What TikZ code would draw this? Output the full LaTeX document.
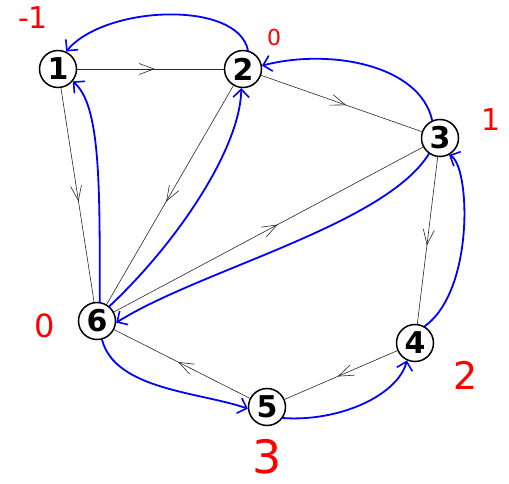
\documentclass[tikz,border=0pt]{standalone}
\usepackage{fontspec}
\setmainfont{DejaVu Sans}
\usetikzlibrary{arrows.meta,decorations.markings}
\definecolor{penblue}{RGB}{0,0,255}
\definecolor{penred}{RGB}{255,0,0}
\begin{document}
\begin{tikzpicture}[x=1pt,y=-1pt,
  vert/.style={circle,draw=black,line width=1.5pt,fill=white,minimum size=37pt,inner sep=0pt,font=\fontsize{30}{30}\selectfont\bfseries},
  edge/.style={draw=black!85,line width=0.6pt,postaction={decorate},
    decoration={markings,mark=at position 0.53 with {\arrow{Straight Barb[length=15pt,width=11pt,line width=0.6pt]}}}},
  pen/.style={draw=penblue,line width=1.8pt,line cap=round,-{Straight Barb[length=8pt,width=16pt,line width=1.6pt]}},
  lab/.style={text=penred,font=\fontsize{#1}{#1}\selectfont,inner sep=0pt}
]
\useasboundingbox (0,0) rectangle (509,484);
\node[vert] (n1) at (58,69) {1};
\node[vert] (n2) at (243,69) {2};
\node[vert] (n3) at (440,138) {3};
\node[vert] (n4) at (415,343) {4};
\node[vert] (n5) at (267,407) {5};
\node[vert] (n6) at (97,321) {6};

\draw[edge] (n1) -- (n2);
\draw[edge] (n2) -- (n3);
\draw[edge] (n1) -- (n6);
\draw[edge] (n2) -- (n6);
\draw[edge] (n6) -- (n3);
\draw[edge] (n3) -- (n4);
\draw[edge] (n4) -- (n5);
\draw[edge] (n5) -- (n6);

\draw[pen] (n2.75) .. controls (238,0) and (105,5) .. (n1.65);
\draw[pen] (n3.114) .. controls (420,65) and (330,48) .. (n2.10);
\draw[pen] (n6.82) .. controls (100,180) and (100,105) .. (n1.-40);
\draw[pen] (n6.50) .. controls (175,245) and (240,150) .. (n2.-95);
\draw[pen] (n3.-125) .. controls (385,225) and (200,270) .. (n6.-5);
\draw[pen] (n4.60) .. controls (475,290) and (470,165) .. (n3.-62);
\draw[pen] (n5.-35) .. controls (340,422) and (398,395) .. (n4.-115);
\draw[pen] (n6.-75) .. controls (115,390) and (200,392) .. (n5.185);

\node[lab=30] (l1) at (33,18) {-1};
\node[lab=22] (l2) at (274,37) {0};
\node[lab=30] (l3) at (491,120) {1};
\node[lab=38] (l4) at (466,375) {2};
\node[lab=46] (l5) at (267,457) {3};
\node[lab=32] (l6) at (45,326) {0};
\end{tikzpicture}
\end{document}
